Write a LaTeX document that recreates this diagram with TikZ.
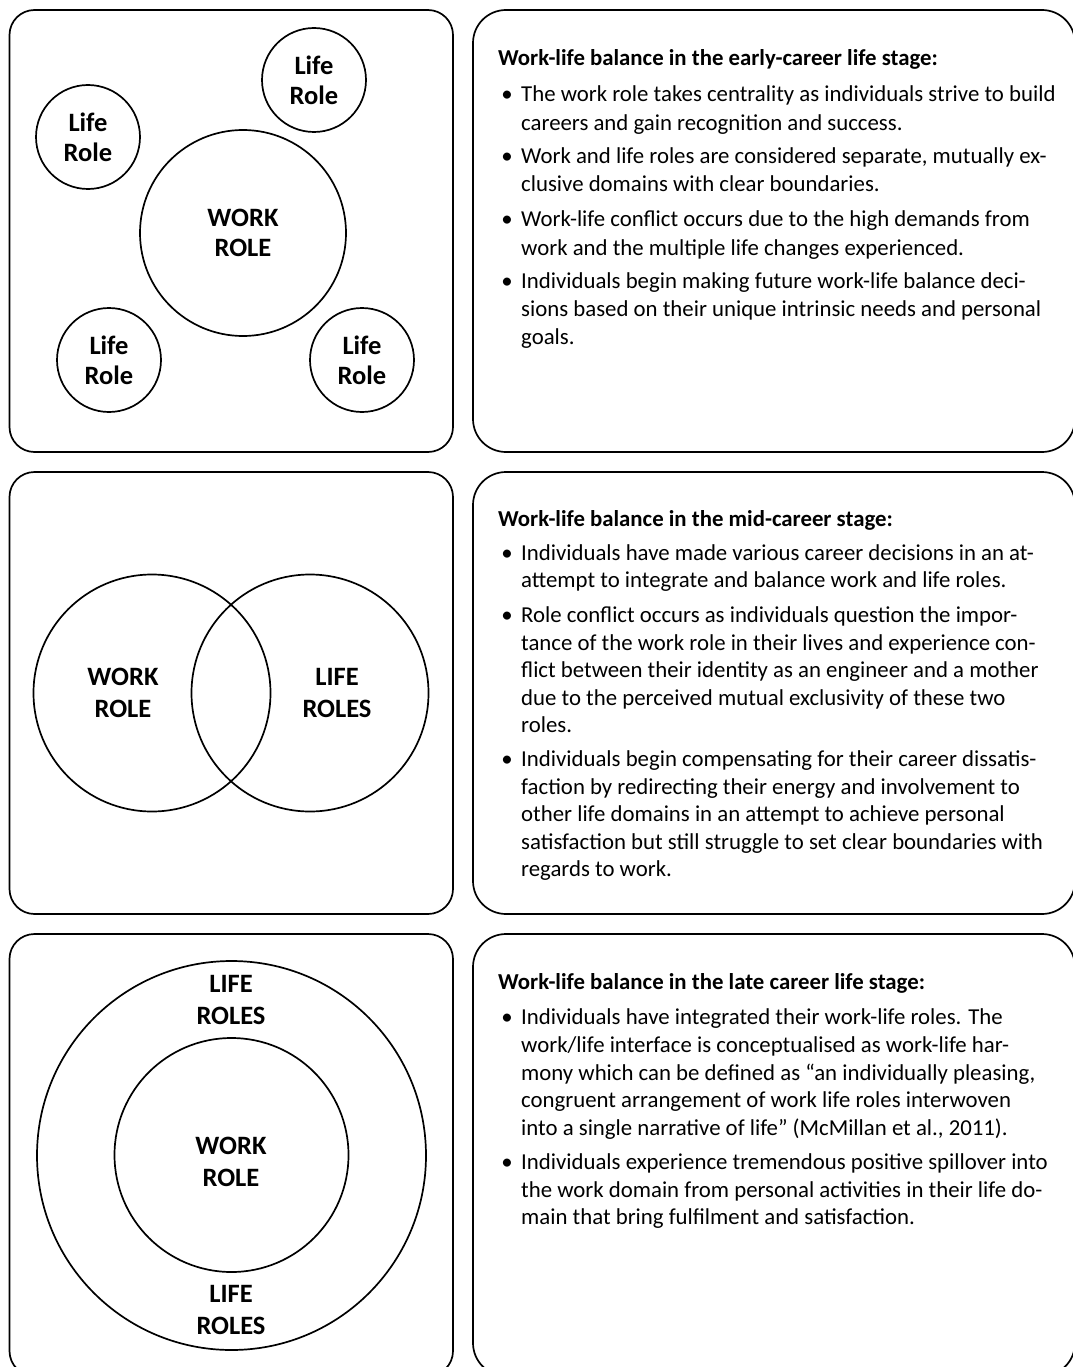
\documentclass[tikz,border=0pt]{standalone}
\usepackage{fontspec}
\setmainfont{Carlito}
\begin{document}
\begin{tikzpicture}[x=1pt,y=-1pt,
  panelL/.style={draw, line width=1.7pt, rounded corners=25pt, minimum width=443.5pt, minimum height=442pt, inner sep=0pt},
  panelR/.style={draw, line width=1.7pt, rounded corners=33pt, minimum width=602pt, minimum height=442pt, inner sep=0pt},
  ring/.style={circle, draw, line width=1.7pt, inner sep=0pt},
  role/.style={ring, align=center, font=\bfseries\fontsize{26.5}{30}\selectfont},
  lbl/.style={align=center, inner sep=0pt, font=\bfseries\fontsize{26.5}{31.5}\selectfont},
  ttl/.style={anchor=base west, inner sep=0pt, font=\bfseries\fontsize{22.8}{27}\selectfont},
  ln/.style={anchor=base west, inner sep=0pt, font=\fontsize{22.8}{27}\selectfont},
]
\newcommand{\bul}{\llap{•\hspace{8.5pt}}}
% background / bounding box
\fill[white] (0,0) rectangle (1072,1367);
\useasboundingbox (0,0) rectangle (1072,1367);

% ---------- panels ----------
\node[panelL] (pL1) at (231.25,231) {};
\node[panelR] (pR1) at (774,231) {};
\node[panelL] (pL2) at (231.25,693) {};
\node[panelR] (pR2) at (774,693) {};
\node[panelL] (pL3) at (231.25,1155) {};
\node[panelR] (pR3) at (774,1155) {};

% ---------- panel 1 diagram ----------
\node[role, minimum size=206pt] (work1) at (243,233) {WORK\\ROLE};
\node[role, minimum size=104pt] (lifeA) at (314,80) {Life\\Role};
\node[role, minimum size=104pt] (lifeB) at (88,137) {Life\\Role};
\node[role, minimum size=104pt] (lifeC) at (109,360) {Life\\Role};
\node[role, minimum size=104pt] (lifeD) at (362,360) {Life\\Role};

% ---------- panel 2 diagram ----------
\node[ring, minimum size=237pt] (vennW) at (152,693) {};
\node[ring, minimum size=237pt] (vennL) at (310,693) {};
\node[lbl] (work2) at (123,693) {WORK\\ROLE};
\node[lbl] (life2) at (337,693) {LIFE\\ROLES};

% ---------- panel 3 diagram ----------
\node[ring, minimum size=389pt] (outer3) at (231.5,1155.5) {};
\node[ring, minimum size=234pt] (inner3) at (231.5,1155) {};
\node[lbl] (lifeTop) at (231,1000) {LIFE\\ROLES};
\node[lbl] (work3) at (231,1162) {WORK\\ROLE};
\node[lbl] (lifeBot) at (231,1310) {LIFE\\ROLES};

% ---------- panel 1 text ----------
\node[ttl] (t1) at (498,66) {Work-life balance in the early-career life stage:};
\node[ln] (a1) at (521,102) {\bul The work role takes centrality as individuals strive to build};
\node[ln] (a2) at (521,131) {careers and gain recognition and success.};
\node[ln] (a3) at (521,164) {\bul Work and life roles are considered separate, mutually ex-};
\node[ln] (a4) at (521,192) {clusive domains with clear boundaries.};
\node[ln] (a5) at (521,226) {\bul Work-life conflict occurs due to the high demands from};
\node[ln] (a6) at (521,255) {work and the multiple life changes experienced.};
\node[ln] (a7) at (521,288) {\bul Individuals begin making future work-life balance deci-};
\node[ln] (a8) at (521,316) {sions based on their unique intrinsic needs and personal};
\node[ln] (a9) at (521,344) {goals.};

% ---------- panel 2 text ----------
\node[ttl] (t2) at (498,526) {Work-life balance in the mid-career stage:};
\node[ln] (b1) at (521,560) {\bul Individuals have made various career decisions in an at-};
\node[ln] (b2) at (521,587) {attempt to integrate and balance work and life roles.};
\node[ln] (b3) at (521,622) {\bul Role conflict occurs as individuals question the impor-};
\node[ln] (b4) at (521,650) {tance of the work role in their lives and experience con-};
\node[ln] (b5) at (521,677) {flict between their identity as an engineer and a mother};
\node[ln] (b6) at (521,705) {due to the perceived mutual exclusivity of these two};
\node[ln] (b7) at (521,732) {roles.};
\node[ln] (b8) at (521,766) {\bul Individuals begin compensating for their career dissatis-};
\node[ln] (b9) at (521,794) {faction by redirecting their energy and involvement to};
\node[ln] (b10) at (521,821) {other life domains in an attempt to achieve personal};
\node[ln] (b11) at (521,849) {satisfaction but still struggle to set clear boundaries with};
\node[ln] (b12) at (521,876) {regards to work.};

% ---------- panel 3 text ----------
\node[ttl] (t3) at (498,989) {Work-life balance in the late career life stage:};
\node[ln] (c1) at (521,1024) {\bul Individuals have integrated their work-life roles. The};
\node[ln] (c2) at (521,1052) {work/life interface is conceptualised as work-life har-};
\node[ln] (c3) at (521,1080) {mony which can be defined as “an individually pleasing,};
\node[ln] (c4) at (521,1107) {congruent arrangement of work life roles interwoven};
\node[ln] (c5) at (521,1135) {into a single narrative of life” (McMillan et al., 2011).};
\node[ln] (c6) at (521,1169) {\bul Individuals experience tremendous positive spillover into};
\node[ln] (c7) at (521,1197) {the work domain from personal activities in their life do-};
\node[ln] (c8) at (521,1224) {main that bring fulfilment and satisfaction.};
\end{tikzpicture}
\end{document}
